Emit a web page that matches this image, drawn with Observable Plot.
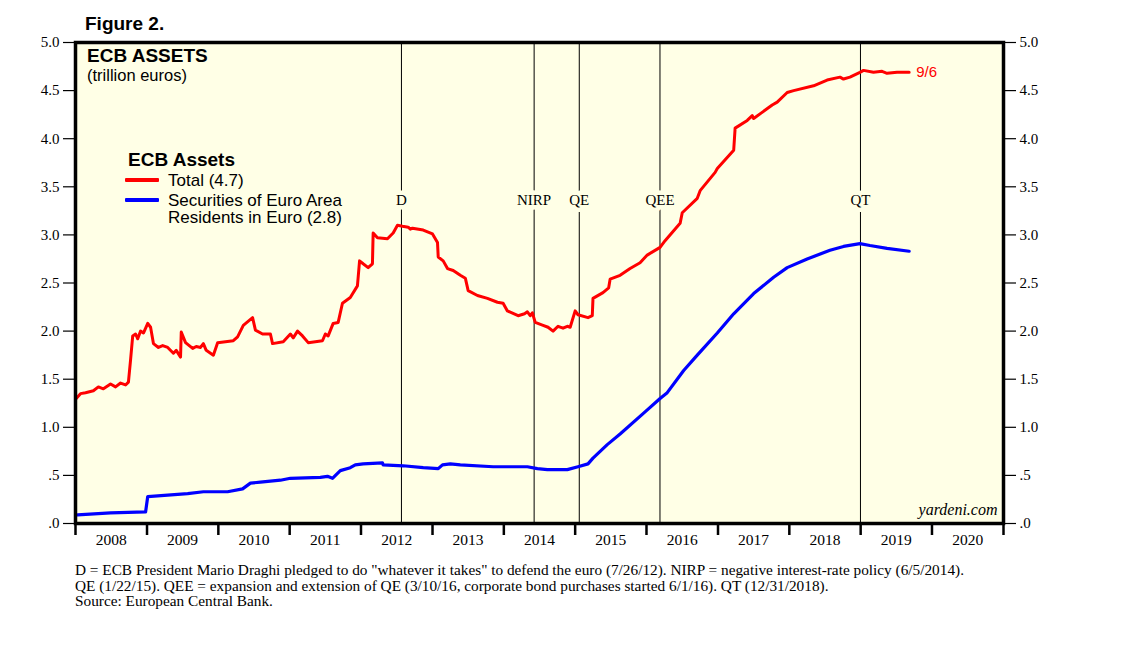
<!DOCTYPE html>
<html><head><meta charset="utf-8">
<script src="https://cdn.jsdelivr.net/npm/d3@7"></script>
<script src="https://cdn.jsdelivr.net/npm/@observablehq/plot@0.6"></script>
<style>
body{margin:0;background:#fff;}
#wrap{position:relative;width:1138px;height:645px;overflow:hidden;background:#fff;}
#chart{position:absolute;left:0;top:0;}
.abs{position:absolute;white-space:nowrap;color:#000;}
.sans{font-family:"Liberation Sans",Arial,sans-serif;}
.serif{font-family:"Liberation Serif","Times New Roman",serif;}
.sw{position:absolute;height:4px;width:34px;border-radius:1px;}
</style></head>
<body><div id="wrap">
<div id="chart"></div>
<div class="abs sans" style="left:85px;top:14px;font-size:19px;line-height:19px;font-weight:bold;">Figure 2.</div>
<div class="abs sans" style="left:87px;top:46px;font-size:19px;line-height:19px;font-weight:bold;">ECB ASSETS</div>
<div class="abs sans" style="left:87px;top:67px;font-size:16.5px;line-height:16.5px;">(trillion euros)</div>
<div class="abs sans" style="left:128px;top:150px;font-size:19px;line-height:19px;font-weight:bold;">ECB Assets</div>
<div class="sw" style="left:125px;top:178px;background:#ff0000;"></div>
<div class="abs sans" style="left:168px;top:172px;font-size:17px;line-height:17px;">Total (4.7)</div>
<div class="sw" style="left:125px;top:198px;background:#0000ff;"></div>
<div class="abs sans" style="left:168px;top:192px;font-size:17px;line-height:17px;">Securities of Euro Area<br>Residents in Euro (2.8)</div>
<div class="abs serif" style="left:75px;top:562px;font-size:15.3px;line-height:15.5px;">D = ECB President Mario Draghi pledged to do "whatever it takes" to defend the euro (7/26/12). NIRP = negative interest-rate policy (6/5/2014).<br>QE (1/22/15). QEE = expansion and extension of QE (3/10/16, corporate bond purchases started 6/1/16). QT (12/31/2018).<br>Source: European Central Bank.</div>
</div>
<script>
// ---- Data (decimal years, trillion euros) ----
const totalYears = [2008.01,2008.07,2008.14,2008.25,2008.32,2008.39,2008.49,2008.56,2008.63,2008.70,2008.74,2008.77,2008.80,2008.84,2008.87,2008.91,2008.95,
2009.01,2009.05,2009.09,2009.16,2009.22,2009.29,2009.37,2009.41,2009.47,2009.48,2009.54,2009.64,2009.69,2009.75,2009.79,2009.83,2009.93,2009.99,
2010.10,2010.21,2010.27,2010.35,2010.48,2010.52,2010.62,2010.73,2010.76,2010.91,
2011.01,2011.05,2011.11,2011.18,2011.26,2011.36,2011.46,2011.50,2011.54,2011.61,2011.68,2011.74,2011.85,2011.95,2011.98,
2012.03,2012.10,2012.16,2012.17,2012.23,2012.37,2012.45,2012.51,2012.58,2012.66,2012.69,2012.72,2012.87,
2013.00,2013.07,2013.08,2013.15,2013.21,2013.29,2013.39,2013.46,2013.50,2013.63,2013.77,2013.91,2013.99,
2014.05,2014.20,2014.29,2014.33,2014.37,2014.40,2014.44,2014.55,2014.62,2014.69,2014.76,2014.83,2014.89,2014.93,
2015.00,2015.04,2015.18,2015.24,2015.25,2015.39,2015.47,2015.49,2015.63,2015.77,2015.91,
2016.01,2016.19,2016.26,2016.47,2016.50,2016.71,2016.75,2016.96,2016.99,
2017.22,2017.24,2017.41,2017.48,2017.50,2017.76,2017.83,2017.97,
2018.06,2018.34,2018.53,2018.71,2018.76,2018.85,2018.99,
2019.04,2019.18,2019.30,2019.37,2019.51,2019.68];
const totalValues = [1.30,1.35,1.36,1.38,1.42,1.40,1.45,1.42,1.46,1.44,1.47,1.70,1.95,1.97,1.92,2.00,1.98,
2.08,2.04,1.87,1.83,1.85,1.83,1.77,1.80,1.73,1.99,1.88,1.82,1.84,1.83,1.87,1.80,1.75,1.88,
1.89,1.90,1.94,2.06,2.14,2.01,1.97,1.97,1.87,1.89,
1.97,1.93,2.00,1.95,1.88,1.89,1.90,1.97,1.95,2.08,2.09,2.29,2.35,2.47,2.73,
2.70,2.66,2.70,3.02,2.97,2.96,3.02,3.10,3.09,3.08,3.06,3.07,3.05,
3.01,2.92,2.77,2.73,2.65,2.63,2.58,2.55,2.42,2.37,2.34,2.30,2.29,
2.21,2.16,2.18,2.20,2.16,2.19,2.09,2.06,2.04,2.00,2.05,2.03,2.05,2.04,
2.21,2.17,2.14,2.16,2.34,2.40,2.45,2.54,2.58,2.65,2.71,
2.79,2.87,2.94,3.12,3.23,3.38,3.46,3.65,3.69,
3.88,4.11,4.19,4.24,4.21,4.35,4.38,4.48,
4.50,4.55,4.61,4.64,4.62,4.64,4.69,
4.71,4.69,4.70,4.68,4.69,4.69];
const securitiesYears = [2008.03,2008.49,2008.98,2009.01,2009.57,2009.79,2010.13,2010.34,2010.45,2010.59,2010.87,
2011.01,2011.43,2011.53,2011.60,2011.71,2011.85,2011.92,2012.03,2012.30,2012.31,2012.59,2012.87,
2013.08,2013.14,2013.25,2013.39,2013.85,2014.33,2014.47,2014.61,2014.89,2015.04,2015.18,2015.25,2015.45,2015.63,2015.98,
2016.19,2016.29,2016.52,2016.71,2016.99,2017.22,2017.50,2017.78,2017.97,2018.25,2018.57,2018.76,2018.99,2019.13,2019.37,2019.68];
const securitiesValues = [0.09,0.11,0.12,0.28,0.31,0.33,0.33,0.36,0.42,0.43,0.45,
0.47,0.48,0.49,0.47,0.55,0.58,0.61,0.62,0.63,0.61,0.60,0.58,
0.57,0.61,0.62,0.61,0.59,0.59,0.57,0.56,0.56,0.59,0.62,0.68,0.82,0.93,1.16,
1.30,1.36,1.59,1.75,1.98,2.18,2.39,2.56,2.66,2.75,2.84,2.88,2.91,2.89,2.86,2.83];
const eventLabels = ["D","NIRP","QE","QEE","QT"];
const eventDates = ["2012-07-26","2014-06-05","2015-01-22","2016-03-10","2018-12-31"];
const yearLabels = ["2008","2009","2010","2011","2012","2013","2014","2015","2016","2017","2018","2019","2020"];
const yTicks = [0,0.5,1,1.5,2,2.5,3,3.5,4,4.5,5];
const yTickLabels = [".0",".5","1.0","1.5","2.0","2.5","3.0","3.5","4.0","4.5","5.0"];
const lastLabel = "9/6";
const sourceMark = "yardeni.com";

// ---- build ----
const toDate = t => { const y = Math.floor(t); const a = Date.UTC(y,0,1), b = Date.UTC(y+1,0,1); return new Date(a + (t - y) * (b - a)); };
const total = totalYears.map((t,i) => ({date: toDate(t), value: totalValues[i]}));
const securities = securitiesYears.map((t,i) => ({date: toDate(t), value: securitiesValues[i]}));
const events = eventLabels.map((l,i) => ({label: l, date: new Date(eventDates[i] + "T00:00:00Z")}));
const firstYear = +yearLabels[0];
const yearMids = yearLabels.map(y => new Date(Date.UTC(+y, 6, 2)));
const yearBounds = yearLabels.map(y => new Date(Date.UTC(+y, 0, 1))).concat([new Date(Date.UTC(+yearLabels[yearLabels.length-1] + 1, 0, 1))]);
const bg = "#ffffe6";
const serif = "Liberation Serif, Times New Roman, serif";
const sans = "Liberation Sans, Arial, sans-serif";

const chart = Plot.plot({
  width: 1138, height: 560,
  marginLeft: 75, marginRight: 135, marginTop: 42, marginBottom: 37,
  style: {fontFamily: serif, fontSize: "14px", background: "transparent", color: "#000"},
  x: {type: "utc", domain: [yearBounds[0], yearBounds[yearBounds.length-1]]},
  y: {domain: [0, 5]},
  marks: [
    Plot.frame({fill: bg}),
    Plot.ruleX(events, {x: "date", stroke: "#000", strokeWidth: 1}),
    Plot.text(events, {x: "date", y: 3.36, text: "label", fontFamily: serif, fontSize: 15, fill: "#000", stroke: bg, strokeWidth: 9}),
    Plot.line(total, {x: "date", y: "value", stroke: "#ff0000", strokeWidth: 3, strokeLinejoin: "round"}),
    Plot.line(securities, {x: "date", y: "value", stroke: "#0000ff", strokeWidth: 3.2, strokeLinejoin: "round"}),
    Plot.text([total[total.length-1]], {x: "date", y: "value", text: () => lastLabel, dx: 7, textAnchor: "start", fill: "#ff0000", fontFamily: sans, fontSize: 15}),
    Plot.text([sourceMark], {text: d => d, frameAnchor: "bottom-right", dx: -6, dy: -9, lineAnchor: "bottom", fontFamily: serif, fontStyle: "italic", fontSize: 16, fill: "#000"}),
    Plot.axisY({anchor: "left", ticks: yTicks, tickFormat: d => yTickLabels[yTicks.indexOf(d)], tickSize: 12, tickPadding: 4, label: null, fontSize: 15, strokeWidth: 1.2}),
    Plot.axisY({anchor: "right", ticks: yTicks, tickFormat: d => yTickLabels[yTicks.indexOf(d)], tickSize: 12, tickPadding: 4, label: null, fontSize: 15, strokeWidth: 1.2}),
    Plot.axisX({ticks: yearMids, tickFormat: d => yearLabels[d.getUTCFullYear() - firstYear], tickSize: 0, tickPadding: 10, label: null, fontSize: 15.5}),
    Plot.axisX({ticks: yearBounds, tickFormat: () => "", tickSize: 12, label: null, strokeWidth: 2.5}),
    Plot.frame({stroke: "#000", strokeWidth: 3.5})
  ]
});
document.getElementById("chart").appendChild(chart);
</script>
</body></html>
